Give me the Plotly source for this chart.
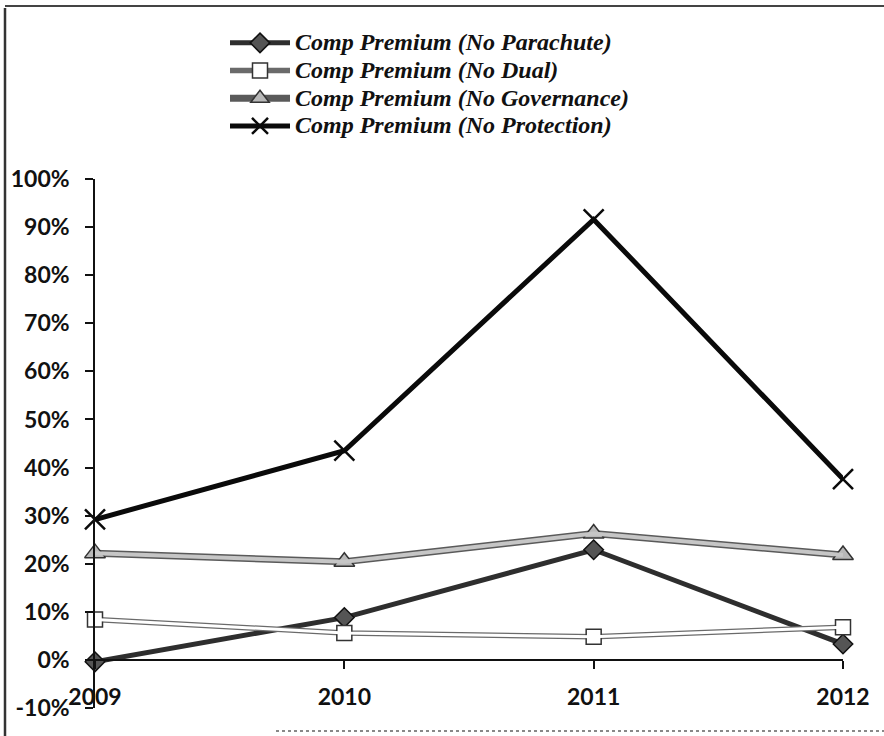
import plotly.graph_objects as go

# ---- data (percent) ----
years = [2009, 2010, 2011, 2012]
year_labels = ["2009", "2010", "2011", "2012"]
parachute = [-0.4, 8.8, 22.9, 3.3]
dual = [8.4, 5.6, 4.8, 6.8]
governance = [22.2, 20.4, 26.3, 21.8]
protection = [29.2, 43.5, 91.6, 37.6]
y_ticks = [-10, 0, 10, 20, 30, 40, 50, 60, 70, 80, 90, 100]
y_labels = ["-10%", "0%", "10%", "20%", "30%", "40%", "50%",
            "60%", "70%", "80%", "90%", "100%"]

names = [
    "Comp Premium (No Parachute)",
    "Comp Premium (No Dual)",
    "Comp Premium (No Governance)",
    "Comp Premium (No Protection)",
]


def lname(s):
    return '<span style="font-size:24px">' + s + "</span>"


fig = go.Figure()

# No Parachute
fig.add_trace(go.Scatter(
    x=years, y=parachute, name=lname(names[0]), mode="lines+markers",
    line=dict(color="#2e2e2e", width=5),
    marker=dict(symbol="diamond", size=15, color="#555555",
                line=dict(color="#111111", width=1.5)),
    cliponaxis=False))

# No Dual (outlined white line)
fig.add_trace(go.Scatter(
    x=years, y=dual, name=lname(names[1]), mode="lines+markers",
    line=dict(color="#6a6a6a", width=5.5),
    marker=dict(symbol="square", size=15, color="white",
                line=dict(color="#333333", width=1.5)),
    cliponaxis=False))
fig.add_trace(go.Scatter(
    x=years, y=dual, mode="lines", showlegend=False, hoverinfo="skip",
    line=dict(color="white", width=3), cliponaxis=False))

# No Governance (light grey line with dark edges)
fig.add_trace(go.Scatter(
    x=years, y=governance, name=lname(names[2]), mode="lines+markers",
    line=dict(color="#5a5a5a", width=7),
    marker=dict(symbol="triangle-up", size=18, color="#b8b8b8",
                line=dict(color="#333333", width=1.5)),
    cliponaxis=False))
fig.add_trace(go.Scatter(
    x=years, y=governance, mode="lines", showlegend=False, hoverinfo="skip",
    line=dict(color="#c6c6c6", width=4), cliponaxis=False))

# No Protection
fig.add_trace(go.Scatter(
    x=years, y=protection, name=lname(names[3]), mode="lines+markers",
    line=dict(color="#0a0a0a", width=5),
    marker=dict(symbol="x-thin", size=20, color="#0a0a0a",
                line=dict(color="#0a0a0a", width=2.5)),
    cliponaxis=False))

tick_font = dict(family="Lato, Carlito, sans-serif", size=23, color="#111111", weight="bold")

fig.update_layout(
    width=884, height=736,
    margin=dict(l=95, r=41, t=179, b=28, autoexpand=False),
    paper_bgcolor="white", plot_bgcolor="white",
    showlegend=True,
    legend=dict(
        xref="container", yref="container",
        x=225 / 884, y=1 - 24 / 736, xanchor="left", yanchor="top",
        bgcolor="rgba(0,0,0,0)", borderwidth=0,
        font=dict(family="Liberation Serif, Times New Roman, serif", size=19,
                  color="#111111", weight="bold", style="italic"),
        itemwidth=60, tracegroupgap=0,
    ),
    xaxis=dict(
        type="linear", range=[2009, 2012], tickvals=years, ticktext=year_labels,
        anchor="free", position=0.1 / 1.1,
        showline=True, linecolor="#111111", linewidth=1.5,
        ticks="outside", ticklen=8, tickcolor="#111111", tickwidth=1.5,
        tickfont=tick_font, ticklabelstandoff=9,
        showgrid=False, zeroline=False,
    ),
    yaxis=dict(
        range=[-10, 100], tickvals=y_ticks, ticktext=y_labels,
        showline=True, linecolor="#111111", linewidth=1.5,
        ticks="outside", ticklen=8, tickcolor="#111111", tickwidth=1.5,
        tickfont=tick_font, ticklabelstandoff=11,
        showgrid=False, zeroline=False,
    ),
    shapes=[
        # scanned frame (left, top, partial bottom)
        dict(type="line", xref="paper", yref="paper",
             x0=(5 - 95) / 748, x1=(5 - 95) / 748,
             y0=(179 - 8) / 529 + 1, y1=-(736 - 708) / 529,
             line=dict(color="#333333", width=2.5)),
        dict(type="line", xref="paper", yref="paper",
             x0=(5 - 95) / 748, x1=(884 - 95) / 748,
             y0=(179 - 6) / 529 + 1, y1=(179 - 6) / 529 + 1,
             line=dict(color="#444444", width=2)),
        dict(type="line", xref="paper", yref="paper",
             x0=(276 - 95) / 748, x1=(884 - 95) / 748,
             y0=-(731 - 708) / 529, y1=-(731 - 708) / 529,
             line=dict(color="#888888", width=2, dash="dot")),
    ],
)

fig.write_html("out.html", config={"displayModeBar": False},
               post_script="document.body.style.margin='0';")
